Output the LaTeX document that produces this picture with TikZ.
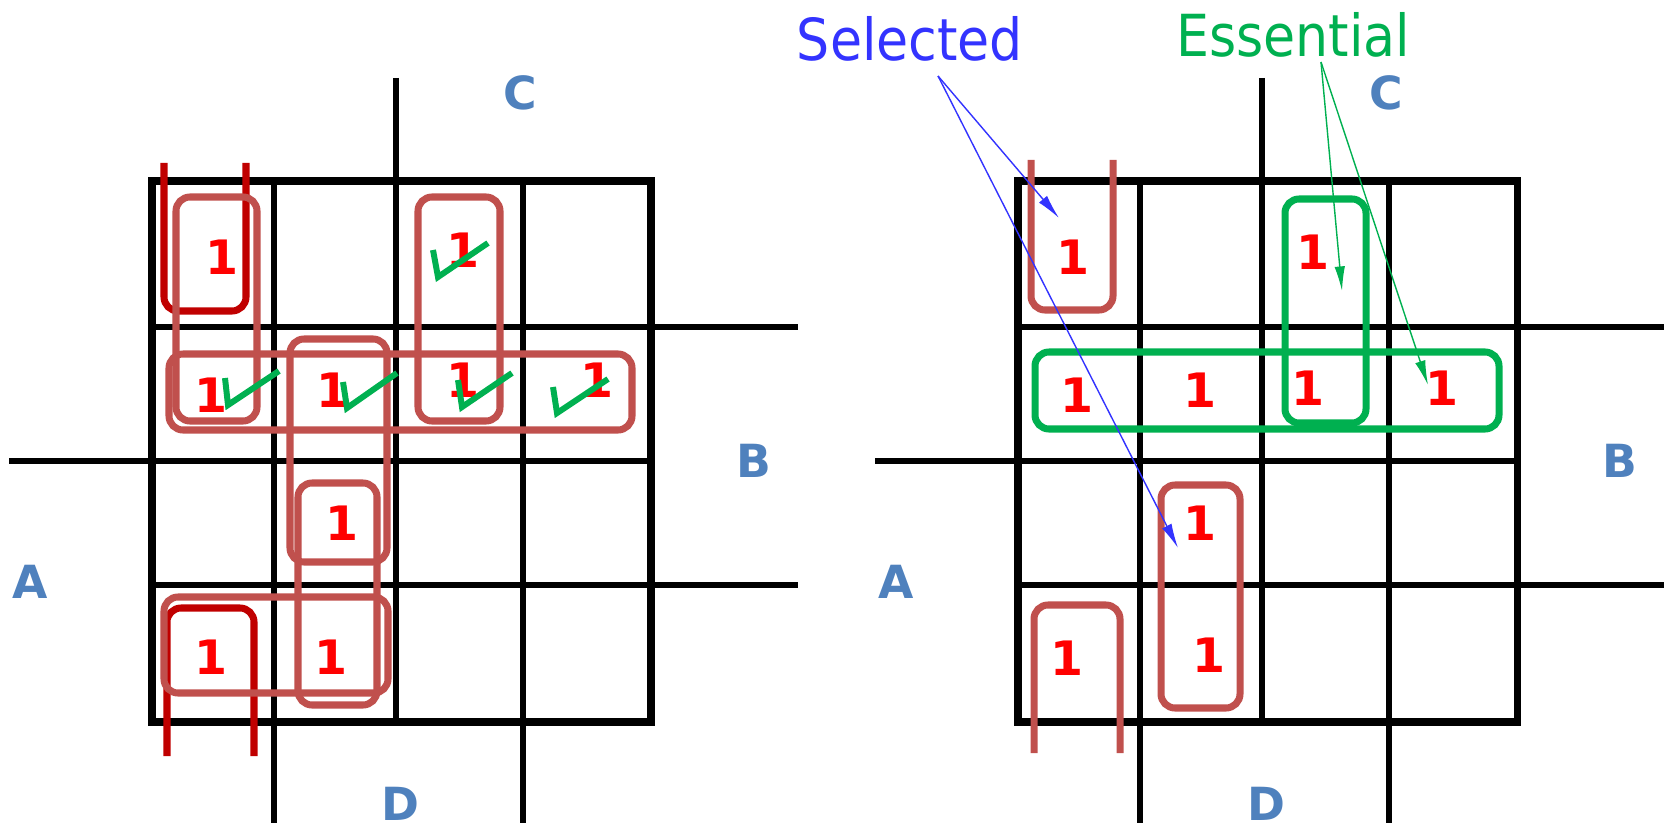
\documentclass[tikz,border=0pt]{standalone}
\usepackage{fontspec}
\setmainfont{DejaVu Sans}
\newfontfamily\notefont[FakeStretch=0.9]{DejaVu Sans}
\usetikzlibrary{arrows.meta}
\definecolor{onered}{RGB}{255,0,0}
\definecolor{looppink}{RGB}{192,80,77}
\definecolor{loopdark}{RGB}{192,0,0}
\definecolor{essgreen}{RGB}{0,176,80}
\definecolor{selblue}{RGB}{51,51,255}
\definecolor{varblue}{RGB}{79,129,189}
\tikzset{
  onecell/.style={text=onered, font=\bfseries\fontsize{27}{27}\selectfont, inner sep=0pt},
  varlabel/.style={text=varblue, font=\bfseries\fontsize{26}{26}\selectfont, inner sep=0pt},
  notelabel/.style={font=\notefont\fontsize{33}{33}\selectfont, inner sep=0pt, anchor=base},
  group/.style={line width=4pt, rounded corners=8pt},
  checkmark/.style={essgreen, line width=3.4pt},
  pointer/.style={-{Latex[length=14pt,width=6pt]}, line width=0.8pt}
}

\begin{document}
\begin{tikzpicture}[x=0.02cm, y=-0.02cm]
            \useasboundingbox (0,0) rectangle (1673,831);
            \foreach \dx in {0,866} {
              \begin{scope}[shift={(\dx,0)}]
                \draw[line width=4pt] (152,181) rectangle (651,722);
                \draw[line width=3.2pt] (274,181) -- (274,823);
                \draw[line width=3.2pt] (396,78) -- (396,722);
                \draw[line width=3.2pt] (523,181) -- (523,823);
                \draw[line width=3.2pt] (152,327) -- (798,327);
                \draw[line width=3.2pt] (9,461) -- (651,461);
                \draw[line width=3.2pt] (152,585) -- (798,585);
                \node[varlabel] (C\dx) at (520,93) {C};
                \node[varlabel] (B\dx) at (754,461) {B};
                \node[varlabel] (A\dx) at (30,582) {A};
                \node[varlabel] (D\dx) at (400,804) {D};
              \end{scope}
            }

            \draw[group, loopdark] (164,163) -- (164,311) -- (246,311) -- (246,163);
            \draw[group, loopdark] (167,756) -- (167,608) -- (254,608) -- (254,756);
            \draw[group, looppink] (176,197) rectangle (257,421);
            \draw[group, looppink] (418,197) rectangle (500,421);
            \draw[group, looppink] (169,354) rectangle (632,430);
            \draw[group, looppink] (290,339) rectangle (387,562);
            \draw[group, looppink] (298,483) rectangle (377,705);
            \draw[group, looppink] (164,597) rectangle (388,693);

            \draw[group, looppink] (1031,160) -- (1031,310) -- (1113,310) -- (1113,160);
            \draw[group, looppink] (1034,753) -- (1034,605) -- (1120,605) -- (1120,753);
            \draw[group, looppink] (1161,485) rectangle (1240,708);
            \draw[group, essgreen] (1285,199) rectangle (1366,423);
            \draw[group, essgreen] (1035,352) rectangle (1499,429);

            \foreach \x/\y [count=\i] in {222/257, 463/250, 211/395, 333/390, 463/380,
                597/380, 342/523, 211/657, 331/657}
              \node[onecell] (l\i) at (\x,\y) {1};
            \foreach \x/\y [count=\i] in {1073/257, 1313/252, 1077/395, 1200/390, 1308/388,
                1442/388, 1200/523, 1067/658, 1209/655}
              \node[onecell] (r\i) at (\x,\y) {1};

            \draw[checkmark] (433,250) -- (438,277) -- (488,243);
            \draw[checkmark] (225,378) -- (228,405) -- (279,371);
            \draw[checkmark] (343,382) -- (347,408) -- (397,373);
            \draw[checkmark] (458,380) -- (462,407) -- (512,373);
            \draw[checkmark] (553,387) -- (557,413) -- (608,379);

            \node[notelabel, text=selblue] (sel) at (910,61) {Selected};
            \node[notelabel, text=essgreen] (ess) at (1293,57) {Essential};
            \coordinate (selfoot) at (938,76);
            \coordinate (seltopa) at (1059,218);
            \coordinate (seltopb) at (1178,548);
            \coordinate (essfoot) at (1321,62);
            \coordinate (esstipa) at (1342,291);
            \coordinate (esstipb) at (1428,385);
            \draw[pointer, selblue] (selfoot) -- (seltopa);
            \draw[pointer, selblue] (selfoot) -- (seltopb);
            \draw[pointer, essgreen] (essfoot) -- (esstipa);
            \draw[pointer, essgreen] (essfoot) -- (esstipb);
        \end{tikzpicture}
\end{document}
